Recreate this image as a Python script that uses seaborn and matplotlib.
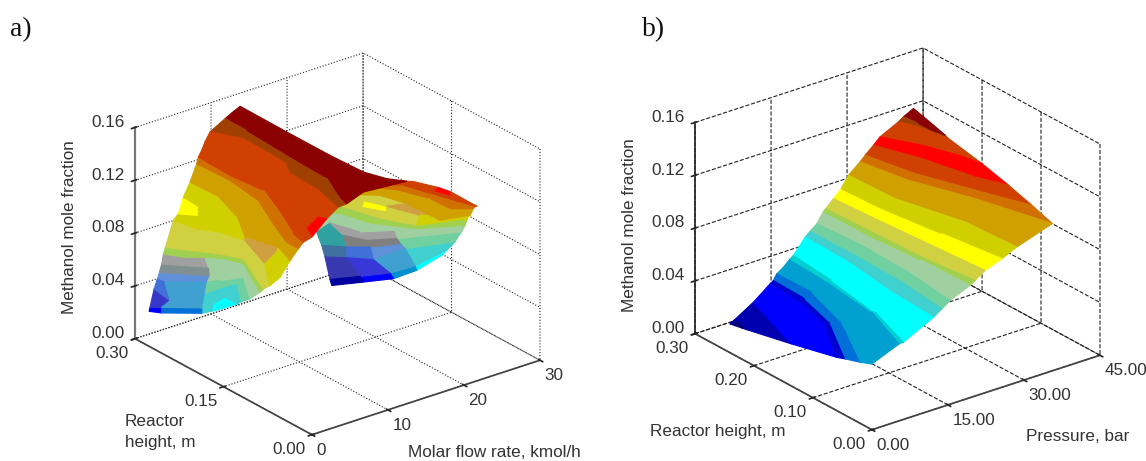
import numpy as np
import seaborn as sns
import matplotlib
matplotlib.use('Agg')
import matplotlib.pyplot as plt
from matplotlib.colors import to_rgba

# ---- panel a: bands of the surface, one row per contour
a_front_z = [0.0173, 0.020, 0.033, 0.0398, 0.0443, 0.050, 0.0573, 0.0618, 0.080, 0.084,
             0.0952, 0.105, 0.117, 0.122, 0.126, 0.132, 0.138, 0.1445, 0.147, 0.150]
a_front_flow = [
    [1.84, 2.63, 5.87, 7.00, 8.84, 10.23],
    [1.98, 2.94, 6.13, 7.65, 9.67, 9.68],
    [2.50, 2.04, 5.85, 7.71, 10.16, 7.78],
    [2.92, 3.05, 6.43, 7.83, 10.26, 7.52],
    [3.20, 4.92, 6.78, 8.72, 9.85, 7.53],
    [3.52, 5.05, 6.85, 8.48, 9.34, 7.02],
    [3.71, 4.85, 6.63, 8.03, 8.78, 5.85],
    [3.99, 5.21, 6.63, 7.74, 8.64, 5.74],
    [5.05, 5.70, 7.12, 7.91, 6.01, 3.13],
    [5.67, 7.07, 7.58, 7.47, 6.38, 4.43],
    [6.37, 6.19, 7.02, 5.28, 5.70, 4.19],
    [7.24, 7.39, 5.82, 3.52, 4.64, 3.58],
    [8.17, 8.38, 7.67, 5.37, 3.69, 3.64],
    [8.32, 8.14, 8.61, 6.81, 4.50, 4.06],
    [8.79, 8.62, 9.08, 7.29, 5.54, 4.69],
    [9.13, 9.49, 9.70, 8.28, 7.07, 7.51],
    [9.86, 11.59, 11.37, 10.37, 10.17, 9.04],
    [11.82, 11.83, 11.39, 11.22, 9.40, 8.94],
    [12.73, 13.23, 12.75, 12.46, 11.51, 11.58],
    [13.83, 13.77, 13.79, 14.01, 14.92, 16.17],
]
a_front_height = [
    [0.2998, 0.2886, 0.2625, 0.2600, 0.2584, 0.2581],
    [0.3001, 0.2927, 0.2660, 0.2668, 0.2720, 0.2511],
    [0.2999, 0.2669, 0.2583, 0.2596, 0.2585, 0.2194],
    [0.2998, 0.2885, 0.2624, 0.2567, 0.2484, 0.2019],
    [0.2999, 0.2814, 0.2618, 0.2625, 0.2486, 0.1935],
    [0.3001, 0.2831, 0.2640, 0.2567, 0.2395, 0.1813],
    [0.2997, 0.2805, 0.2668, 0.2508, 0.2293, 0.1633],
    [0.2999, 0.2822, 0.2638, 0.2470, 0.2275, 0.1561],
    [0.3001, 0.2690, 0.2476, 0.2155, 0.1571, 0.1115],
    [0.2996, 0.2837, 0.2536, 0.2097, 0.1534, 0.1111],
    [0.3001, 0.2724, 0.2379, 0.1815, 0.1333, 0.0980],
    [0.3000, 0.2539, 0.2014, 0.1588, 0.1167, 0.0832],
    [0.3007, 0.2469, 0.1898, 0.1347, 0.0903, 0.0699],
    [0.2998, 0.2438, 0.1933, 0.1446, 0.0895, 0.0668],
    [0.3003, 0.2443, 0.1938, 0.1452, 0.0804, 0.0609],
    [0.2991, 0.2442, 0.1905, 0.1440, 0.0804, 0.0718],
    [0.3000, 0.2657, 0.1893, 0.1709, 0.1203, 0.0718],
    [0.2997, 0.2631, 0.1726, 0.1167, 0.0734, 0.0562],
    [0.3001, 0.2473, 0.1676, 0.1073, 0.0782, 0.0620],
    [0.3001, 0.2203, 0.1471, 0.0933, 0.0655, 0.0476],
]
a_front_colors = [
    ['#0000ff', '#0070d8', '#40d0d0', '#00ffff', '#00ffff'],
    ['#3838c8', '#40a0d0', '#40d0d0', '#40d0d0', '#40d0d0'],
    ['#4070d8', '#40a0d0', '#70d0a0', '#70d0a0', '#70d0a0'],
    ['#6090d8', '#6090d8', '#a0d0a0', '#a0d0a0', '#a0d0a0'],
    ['#809090', '#809090', '#a0d0a0', '#a0d0a0', '#a0d0a0'],
    ['#a0a0a0', '#a0a0a0', '#a0d0a0', '#a0d0a0', '#a0d0a0'],
    ['#a0d050'] * 5,
    ['#d0d040'] * 5,
    ['#d0d000', '#d0d000', '#d0d000', '#d0a040', '#d0d000'],
    ['#ffff00', '#d0d000', '#d0d000', '#d0a040', '#d0d000'],
    ['#d0d000', '#d0d000', '#d0d000', '#d0a040', '#d0d000'],
    ['#d0a000'] * 5,
    ['#d07000'] * 5,
    ['#d04000'] * 5,
    ['#d04000', '#d04000', '#d04000', '#d04000', '#ff0000'],
    ['#d04000'] * 5,
    ['#a04000'] * 5,
    ['#8b0000'] * 5,
    ['#8b0000'] * 5,
]

# the lobe that is seen behind the ridge
a_back_z = [0.045, 0.05, 0.06, 0.065, 0.07, 0.072, 0.08, 0.085, 0.087, 0.09,
            0.095, 0.105, 0.11, 0.112, 0.115]
a_back_flow = [
    [15.22, 18.34, 21.31, 24.50, 28.84],
    [14.99, 17.92, 20.89, 24.02, 29.16],
    [15.97, 17.66, 19.55, 23.83, 28.95],
    [16.47, 18.28, 20.20, 23.18, 29.42],
    [16.46, 18.77, 19.93, 22.66, 29.02],
    [16.69, 19.14, 20.25, 23.25, 29.26],
    [19.20, 19.95, 20.83, 23.81, 28.30],
    [19.90, 20.48, 21.32, 23.32, 28.50],
    [20.03, 21.15, 22.47, 23.82, 28.00],
    [20.88, 21.76, 22.73, 24.11, 27.83],
    [21.03, 22.85, 23.79, 24.00, 27.23],
    [21.20, 23.08, 24.47, 24.59, 26.51],
    [21.48, 23.29, 24.51, 25.09, 26.00],
    [21.75, 23.55, 24.64, 25.27, 25.66],
    [21.95, 23.67, 24.82, 25.18, 25.14],
]
a_back_height = [
    [0.1625, 0.1490, 0.1365, 0.1379, 0.1514],
    [0.1626, 0.1493, 0.1369, 0.1347, 0.1461],
    [0.1837, 0.1686, 0.1477, 0.1491, 0.1304],
    [0.1957, 0.1765, 0.1617, 0.1491, 0.1290],
    [0.2012, 0.1885, 0.1640, 0.1481, 0.1200],
    [0.2068, 0.2160, 0.1793, 0.1614, 0.1202],
    [0.2169, 0.2038, 0.1700, 0.1292, 0.1050],
    [0.2117, 0.1937, 0.1622, 0.1228, 0.1037],
    [0.2077, 0.1865, 0.1628, 0.1264, 0.0972],
    [0.2045, 0.1904, 0.1662, 0.1274, 0.0934],
    [0.1951, 0.1790, 0.1458, 0.0920, 0.0828],
    [0.1746, 0.1537, 0.1150, 0.0827, 0.0678],
    [0.1642, 0.1450, 0.1043, 0.0863, 0.0585],
    [0.1592, 0.1400, 0.1088, 0.0903, 0.0530],
    [0.1504, 0.1329, 0.1054, 0.0890, 0.0445],
]
a_back_colors = [
    ['#0000a0', '#0000ff', '#0090d0', '#00ffff'],
    ['#3838b0', '#3838d8', '#40a0d0', '#40d0d0'],
    ['#4070a0', '#4070d8', '#6090d8', '#70d0a0'],
    ['#30a0a0', '#808080', '#808080', '#70d0a0'],
    ['#30a0a0', '#a0a0a0', '#a0a0a0', '#a0d0a0'],
    ['#a0d0a0'] * 4,
    ['#a0d050'] * 4,
    ['#d0d040', '#d0d040', '#d0d040', '#d0d000'],
    ['#d0d040', '#ffff00', '#d0d040', '#d0d000'],
    ['#d0d040', '#d0d040', '#d0a040', '#d0d000'],
    ['#d0a000'] * 4,
    ['#d07000'] * 4,
    ['#d04000'] * 4,
    ['#d04000', '#d04000', '#ff0000', '#d04000'],
]

# ---- panel b
b_z = [0.0, 0.0, 0.0092, 0.019, 0.0206, 0.0249, 0.0283, 0.033, 0.0346, 0.0457, 0.0487, 0.053,
       0.0606, 0.0621, 0.0678, 0.0735, 0.0818, 0.089, 0.0929, 0.0984, 0.103, 0.11, 0.1125, 0.1164]
b_pressure = [
    [6.52, 6.76, 7.04, 7.28],
    [6.52, 8.12, 8.34, 7.28],
    [11.57, 9.28, 7.69, 6.82],
    [14.85, 14.21, 12.16, 6.39],
    [15.54, 15.28, 13.05, 6.64],
    [16.18, 16.33, 13.20, 6.45],
    [17.51, 17.27, 13.83, 6.41],
    [18.81, 18.23, 16.76, 12.92],
    [19.50, 18.55, 16.69, 13.36],
    [21.79, 21.44, 19.96, 19.42],
    [22.80, 22.89, 22.58, 21.45],
    [24.06, 24.69, 24.38, 23.08],
    [25.42, 25.51, 26.40, 26.68],
    [25.86, 26.24, 26.74, 27.98],
    [27.37, 27.97, 28.89, 29.79],
    [28.89, 29.36, 31.08, 32.79],
    [30.34, 30.79, 34.12, 34.81],
    [32.64, 34.44, 38.49, 42.35],
    [33.61, 35.62, 39.67, 42.81],
    [35.27, 38.20, 40.61, 42.83],
    [36.60, 39.86, 42.11, 43.09],
    [40.19, 41.52, 42.06, 42.56],
    [41.20, 41.53, 41.65, 42.16],
    [43.15, 42.50, 41.83, 41.00],
]
b_height = [
    [0.2966, 0.2901, 0.2814, 0.2749],
    [0.2966, 0.3019, 0.2924, 0.2749],
    [0.3005, 0.2496, 0.2162, 0.1946],
    [0.3004, 0.2412, 0.1839, 0.1146],
    [0.3007, 0.2447, 0.1832, 0.1015],
    [0.3005, 0.2424, 0.1647, 0.0744],
    [0.3005, 0.2392, 0.1474, 0.0553],
    [0.3005, 0.2305, 0.1443, 0.0650],
    [0.3008, 0.2275, 0.1381, 0.0614],
    [0.3005, 0.2241, 0.1379, 0.0625],
    [0.3008, 0.2252, 0.1434, 0.0658],
    [0.3004, 0.2295, 0.1476, 0.0658],
    [0.3007, 0.2252, 0.1424, 0.0628],
    [0.3005, 0.2257, 0.1396, 0.0655],
    [0.3005, 0.2350, 0.1468, 0.0640],
    [0.3005, 0.2355, 0.1485, 0.0615],
    [0.3005, 0.2253, 0.1351, 0.0534],
    [0.3007, 0.2341, 0.1560, 0.0580],
    [0.3004, 0.2329, 0.1546, 0.0968],
    [0.3005, 0.2437, 0.1741, 0.1366],
    [0.3008, 0.2580, 0.2152, 0.1840],
    [0.3004, 0.2780, 0.2543, 0.2360],
    [0.3006, 0.2781, 0.2565, 0.2383],
    [0.3004, 0.2778, 0.2551, 0.2282],
]
b_band_colors = ['#00007f', '#0000b0', '#0000ff', '#0000d0', '#0070d8', '#00a0d0', '#00a0d0', '#00d0d0',
                 '#00ffff', '#40d0d0', '#70d0a0', '#a0d0a0', '#a0d050', '#d0d040', '#ffff00', '#d0d000',
                 '#d0a000', '#d07000', '#d04000', '#ff0000', '#d04000', '#a04000', '#8b0000']

flow_ticks = [0, 10, 20, 30]
height_ticks_a = [0.00, 0.15, 0.30]
press_ticks = [0, 15, 30, 45]
height_ticks_b = [0.00, 0.10, 0.20, 0.30]
z_ticks = [0.00, 0.04, 0.08, 0.12, 0.16]

sns.set_theme(style='white')
plt.rcParams['font.family'] = ['Liberation Sans', 'DejaVu Sans']

W, H = 1146, 461
side = 456.2
fig = plt.figure(figsize=(W / 100, H / 100), dpi=100, facecolor='white')


def make_axes(cx, cy, xticks, yticks, xfmt, ls, zcol, zlw):
    left = cx - 0.5135 * side
    bottom = H - cy - side / 2
    ax = fig.add_axes([left / W, bottom / H, side / W, side / H], projection='3d',
                      proj_type='ortho', computed_zorder=False)
    ax.patch.set_alpha(0)
    ax.view_init(elev=24.9, azim=-127.8)
    ax.set_box_aspect((1, 1, 0.807))
    ax.set_xlim(xticks[0], xticks[-1])
    ax.set_ylim(yticks[0], yticks[-1])
    ax.set_zlim(0, 0.16)
    ax.set_xticks(xticks)
    ax.set_yticks(yticks)
    ax.set_zticks(z_ticks)
    ax.set_xticklabels([xfmt % t for t in xticks])
    ax.set_yticklabels(['%.2f' % t for t in yticks])
    ax.set_zticklabels(['%.2f' % t for t in z_ticks])
    ax.tick_params(labelsize=12.3, labelcolor='#333333')
    ax.tick_params(axis='x', pad=-3.5)
    ax.tick_params(axis='y', pad=-3.5)
    ax.tick_params(axis='z', pad=-3.5)
    for axis in (ax.xaxis, ax.yaxis, ax.zaxis):
        axis.set_pane_color((1, 1, 1, 0))
        axis.pane.set_edgecolor((1, 1, 1, 0))
        axis._axinfo['grid'].update(color='#222222', linewidth=0.8, linestyle=ls)
        axis.line.set_color('#444444')
    ax.zaxis.set_ticks_position('upper')
    ax.zaxis.line.set_color(zcol)
    ax.zaxis.line.set_linewidth(zlw)
    for lab in ax.get_xticklabels():
        lab.set_ha('left')
    for lab in ax.get_yticklabels() + ax.get_zticklabels():
        lab.set_ha('right')
    for lab in ax.get_zticklabels():
        lab.set_va('baseline')
    return ax


def draw_sheet(ax, xs, ys, zs, colors, order):
    xs, ys = np.array(xs), np.array(ys)
    zs = np.repeat(np.array(zs)[:, None], xs.shape[1], axis=1)
    face = np.array([[to_rgba(c) for c in row] for row in colors])
    ax.plot_surface(xs, ys, zs, facecolors=face, shade=False, rstride=1, cstride=1,
                    linewidth=0.8, antialiased=True, zorder=order)


ax_a = make_axes(337.5, 250, flow_ticks, height_ticks_a, '%d', ':', '#777777', 1.6)
ax_b = make_axes(897.5, 245, press_ticks, height_ticks_b, '%.2f', '--', '#222222', 1.2)

draw_sheet(ax_a, a_back_flow, a_back_height, a_back_z, a_back_colors, 2)
draw_sheet(ax_a, a_front_flow, a_front_height, a_front_z, a_front_colors, 3)
draw_sheet(ax_b, b_pressure, b_height, b_z,
           [[c] * 3 for c in b_band_colors], 2)


def label(x, y, s, **kw):
    kw.setdefault('color', '#333333')
    kw.setdefault('fontsize', 12.3)
    fig.text(x / W, 1 - y / H, s, va='center', **kw)


label(10, 30, 'a)', family='Liberation Serif', fontsize=20, color='#111111')
label(642, 30, 'b)', family='Liberation Serif', fontsize=20, color='#111111')
label(70, 227, 'Methanol mole fraction', rotation=90, ha='center')
label(630, 225, 'Methanol mole fraction', rotation=90, ha='center')
label(408, 452, 'Molar flow rate, kmol/h')
label(125, 422, 'Reactor')
label(125, 442, 'height, m')
label(650, 431, 'Reactor height, m')
label(1026, 436, 'Pressure, bar')

fig.savefig('out.png', dpi=100)
